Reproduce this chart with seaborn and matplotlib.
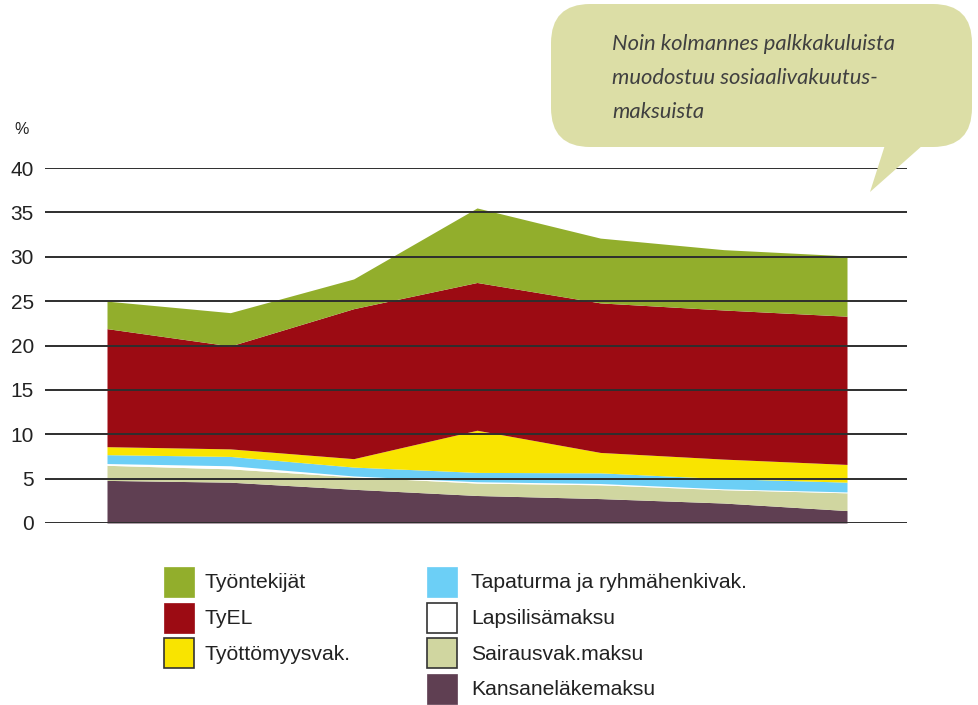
import matplotlib
matplotlib.use("Agg")
import matplotlib.pyplot as plt
from matplotlib.patches import Rectangle, FancyBboxPatch, Polygon
import seaborn as sns
import pandas as pd

# data (percent of wages), bottom to top
points = [0, 1, 2, 3, 4, 5, 6]
kansanelake = [4.8, 4.6, 3.8, 3.1, 2.75, 2.25, 1.4]
sairausvak = [1.7, 1.5, 1.4, 1.4, 1.55, 1.5, 2.0]
lapsilisa = [0.2, 0.35, 0.1, 0.15, 0.15, 0.1, 0.1]
tapaturma = [1.0, 1.05, 1.0, 1.05, 1.2, 1.15, 1.1]
tyottomyys = [0.9, 0.85, 0.95, 4.75, 2.3, 2.2, 2.0]
tyel = [13.3, 11.6, 16.9, 16.65, 16.85, 16.8, 16.7]
tyontekijat = [3.1, 3.75, 3.35, 8.4, 7.3, 6.8, 6.8]

series_names = ["Kansaneläkemaksu", "Sairausvak.maksu", "Lapsilisämaksu",
                "Tapaturma ja ryhmähenkivak.", "Työttömyysvak.", "TyEL", "Työntekijät"]
yticks = [0, 5, 10, 15, 20, 25, 30, 35, 40]
note_lines = ["Noin kolmannes palkkakuluista", "muodostuu sosiaalivakuutus-", "maksuista"]

colors = {
    "Kansaneläkemaksu": "#5f3f52",
    "Sairausvak.maksu": "#d0d6a0",
    "Lapsilisämaksu": "#ffffff",
    "Tapaturma ja ryhmähenkivak.": "#6ccff6",
    "Työttömyysvak.": "#f9e400",
    "TyEL": "#9c0b13",
    "Työntekijät": "#92ae2c",
}

df = pd.DataFrame({
    "Kansaneläkemaksu": kansanelake,
    "Sairausvak.maksu": sairausvak,
    "Lapsilisämaksu": lapsilisa,
    "Tapaturma ja ryhmähenkivak.": tapaturma,
    "Työttömyysvak.": tyottomyys,
    "TyEL": tyel,
    "Työntekijät": tyontekijat,
}, index=points)

sns.set_theme(style="white")
plt.rcParams["font.family"] = ["Liberation Sans", "DejaVu Sans"]

W, H = 979, 705
fig = plt.figure(figsize=(W / 100, H / 100), dpi=100)

def fx(px):
    return px / W

def fy(py):
    return 1 - py / H

ax_left, ax_right = 45, 907
ax_top, ax_bottom = 168, 523
ax = fig.add_axes([fx(ax_left), fy(ax_bottom), fx(ax_right - ax_left), (ax_bottom - ax_top) / H])

ax.stackplot(df.index, [df[c].values for c in series_names],
             colors=[colors[c] for c in series_names], linewidth=0, zorder=1)

step = (847 - 107) / 6
ax.set_xlim((ax_left - 107) / step, 6 + (ax_right - 847) / step)
ax.set_ylim(0, 40)
ax.set_yticks(yticks)
ax.set_yticklabels([str(v) for v in yticks], fontsize=15, color="#222222")
ax.set_xticks([])
ax.tick_params(axis="y", length=0, pad=8)
for s in ax.spines.values():
    s.set_visible(False)
ax.set_axisbelow(False)
ax.yaxis.grid(True, color="#2e2e2e", linewidth=1.4, zorder=5)
ax.xaxis.grid(False)
ax.patch.set_alpha(0)

fig.text(fx(22), fy(130), "%", fontsize=11.5, color="#222222", ha="center", va="center")

# legend (manual layout)
col1 = ["Työntekijät", "TyEL", "Työttömyysvak."]
col2 = ["Tapaturma ja ryhmähenkivak.", "Lapsilisämaksu", "Sairausvak.maksu", "Kansaneläkemaksu"]
edged = {"Työttömyysvak.", "Lapsilisämaksu", "Sairausvak.maksu"}

def legend_column(names, x_sw, x_txt, y_start, dy):
    for i, name in enumerate(names):
        yc = y_start + i * dy
        rect = Rectangle((fx(x_sw), fy(yc + 15)), fx(30), 30 / H,
                         transform=fig.transFigure,
                         facecolor=colors[name],
                         edgecolor="#333333" if name in edged else colors[name],
                         linewidth=1.2 if name in edged else 0.5)
        fig.patches.append(rect)
        fig.text(fx(x_txt), fy(yc + 1), name, fontsize=15.2, color="#222222",
                 ha="left", va="center")

legend_column(col1, 164, 205, 582, 35.5)
legend_column(col2, 427, 471, 582, 35.5)

# callout bubble
bubble_color = "#dcdea6"
bx0, by0, bx1, by1 = 551, 4, 972, 147
bubble = FancyBboxPatch((fx(bx0), fy(by1)), fx(bx1 - bx0), (by1 - by0) / H,
                        boxstyle="round,pad=0,rounding_size=0.04",
                        mutation_aspect=W / H,
                        transform=fig.transFigure, facecolor=bubble_color, edgecolor="none",
                        zorder=10)
fig.patches.append(bubble)
tail = Polygon([(fx(885), fy(145)), (fx(923), fy(145)), (fx(870), fy(192))],
               closed=True, transform=fig.transFigure, facecolor=bubble_color,
               edgecolor="none", zorder=10)
fig.patches.append(tail)
for i, line in enumerate(note_lines):
    fig.text(fx(612), fy(44 + i * 34), line, fontsize=15.8, fontstyle="italic",
             family=["Lato", "DejaVu Sans"], color="#404040", ha="left", va="center",
             zorder=11)

fig.savefig("out.png", dpi=100)
